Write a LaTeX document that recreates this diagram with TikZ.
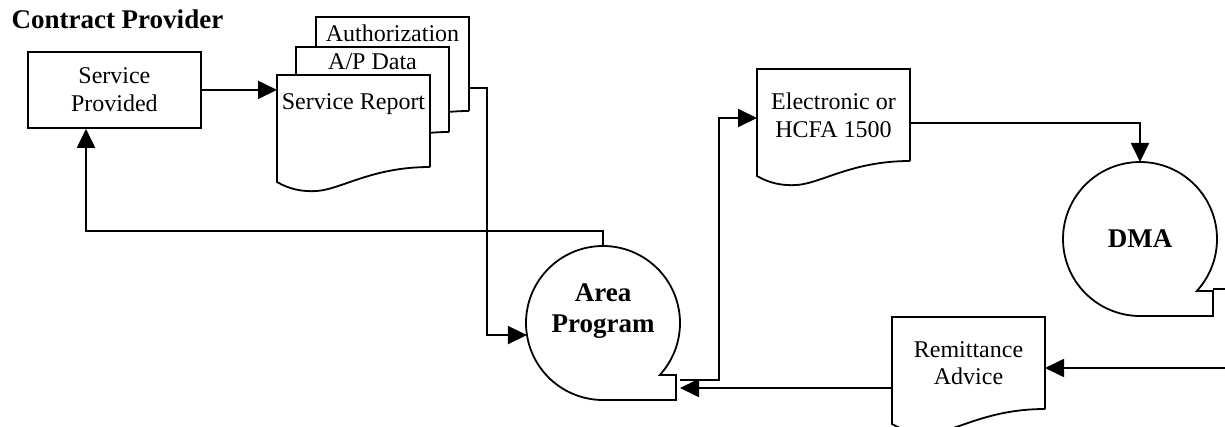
\documentclass[tikz,border=0pt]{standalone}
\usepackage{fontspec}
\setmainfont{Liberation Serif}
\usetikzlibrary{arrows.meta,backgrounds}
\newcommand\docshape[1]{%
  \draw[ln,fill=white] (#1.south east) -- (#1.north east) -- (#1.north west) -- ([yshift=-15pt]#1.south west)
    .. controls +(12,-7) and +(-15,-1) .. ([shift={(40,-24)}]#1.south west)
    .. controls +(25,2) and +(-58,0) .. (#1.south east);}
\begin{document}
\begin{tikzpicture}[x=1pt,y=1pt,
  ln/.style={line width=1.8pt},
  arr/.style={ln,-{Triangle[length=19pt,width=18pt]}},
  rg/.style={font=\fontsize{24}{27.6}\selectfont},
  bd/.style={font=\fontsize{27}{31}\selectfont\bfseries},
  docnode/.style={rg,rectangle,inner sep=0pt,outer sep=0pt,minimum width=153pt,minimum height=92pt,anchor=north west},
  disk/.style={circle,inner sep=0pt,outer sep=0pt,minimum size=154pt}]
\useasboundingbox (0,0) rectangle (1225,-427);
\clip (0,0) rectangle (1225,-427);

% nodes
\node[bd,anchor=base west] (title) at (8,-29) {Contract Provider};
\node[rg,draw,ln,rectangle,minimum width=173pt,minimum height=76pt,anchor=north west,align=center] (sp) at (27,-51) {Service\\Provided};
\node[docnode,minimum height=94pt,text height=25pt,text depth=69pt] (auth) at (316,-17) {Authorization};
\node[docnode,minimum height=85pt,text height=23pt,text depth=62pt] (apd) at (296,-47) {A/P Data};
\node[docnode,text height=35pt,text depth=57pt] (sr) at (277,-75) {Service Report};
\node[docnode,align=center] (er) at (757,-69) {Electronic or\\HCFA 1500};
\node[docnode,align=center] (ra) at (892,-317) {Remittance\\Advice};
\node[disk] (ap) at (603,-323) {};
\node[bd,align=center] (apt) at (603,-311) {Area\\Program};
\node[disk,bd] (dma) at (1140,-239) {DMA};

% document outlines
\begin{scope}[on background layer]
  \docshape{auth}
  \docshape{apd}
  \docshape{sr}
  \docshape{er}
  \docshape{ra}
\end{scope}

% disk outlines
\draw[ln] ([shift={(-42.5:77)}]ap.center) arc[start angle=-42.5,end angle=270,radius=77] -- ++(73,0) -- ++(0,25) -- cycle;
\draw[ln] ([shift={(-42.5:77)}]dma.center) arc[start angle=-42.5,end angle=270,radius=77] -- ++(73,0) -- ++(0,25) -- cycle;

% connectors
\coordinate (c1) at (86,-231);
\draw[arr] (ap.north) |- (c1) -- (c1 |- sp.south);
\draw[arr] (sp.east) -- (sp.east -| sr.west);
\coordinate (b1) at (487,-88);
\draw[arr] (b1 -| auth.east) -- (b1) |- (ap.189);
\coordinate (c2) at (719,-118);
\draw[arr] ([shift={(77,-57)}]ap.center) -| (c2) -- (c2 -| er.west);
\draw[arr] ([yshift=-8pt]er.east) -| (dma.north);
\draw[arr] ([yshift=-25pt]ra.west) -- ([shift={(77,-65)}]ap.center);
\coordinate (dout) at (1240,-289);
\draw[ln] ([shift={(73,-50)}]dma.center) -- (dout);
\coordinate (rin) at (1240,-368);
\draw[arr] (rin) -- (rin -| ra.east);
\end{tikzpicture}
\end{document}
